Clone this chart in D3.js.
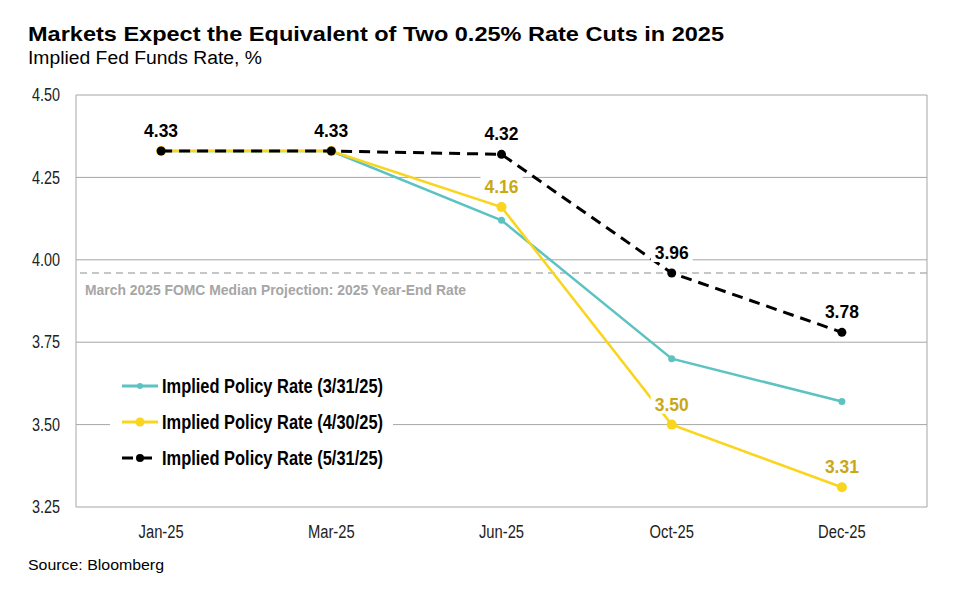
<!DOCTYPE html>
<html>
<head>
<meta charset="utf-8">
<script src="https://cdn.jsdelivr.net/npm/d3@7"></script>
<style>
  body { margin: 0; background: #fff; }
  text { font-family: "Liberation Sans", Arial, Helvetica, sans-serif; }
</style>
</head>
<body>
<div id="chart"></div>
<script>
// data
var months = ["Jan-25", "Mar-25", "Jun-25", "Oct-25", "Dec-25"];
var rateMar = [4.33, 4.33, 4.12, 3.70, 3.57];
var rateApr = [4.33, 4.33, 4.16, 3.50, 3.31];
var rateMay = [4.33, 4.33, 4.32, 3.96, 3.78];
var yTicks = [3.25, 3.50, 3.75, 4.00, 4.25, 4.50];
var fomcRate = 3.96;
var fomcLabel = "March 2025 FOMC Median Projection: 2025 Year-End Rate";
var seriesNames = ["Implied Policy Rate (3/31/25)", "Implied Policy Rate (4/30/25)", "Implied Policy Rate (5/31/25)"];

var W = 960, H = 595;
var margin = {top: 95, right: 33, bottom: 88, left: 76},
    width = W - margin.left - margin.right,
    height = H - margin.top - margin.bottom;

// squeeze a text horizontally (no narrow font installed)
function condense(sel, factor) {
  sel.each(function() {
    var w = this.getComputedTextLength();
    d3.select(this).attr("textLength", w * factor).attr("lengthAdjust", "spacingAndGlyphs");
  });
}
function fit(sel, w) {
  sel.attr("textLength", w).attr("lengthAdjust", "spacingAndGlyphs");
}

var svg = d3.select("#chart").append("svg")
    .attr("width", W).attr("height", H);

// title block
svg.append("text")
    .attr("x", 28).attr("y", 41)
    .style("font-size", "21px").style("font-weight", "bold")
    .text("Markets Expect the Equivalent of Two 0.25% Rate Cuts in 2025")
    .call(fit, 696);
svg.append("text")
    .attr("x", 28).attr("y", 64)
    .style("font-size", "18px")
    .text("Implied Fed Funds Rate, %")
    .call(fit, 234);
svg.append("text")
    .attr("x", 28).attr("y", 570)
    .style("font-size", "14.5px")
    .text("Source: Bloomberg")
    .call(fit, 136);

var g = svg.append("g")
    .attr("transform", "translate(" + margin.left + "," + margin.top + ")");

var x = d3.scaleBand().domain(months).range([0, width]);
var y = d3.scaleLinear().domain([3.25, 4.50]).range([height, 0]);
var cx = function(i) { return x(months[i]) + x.bandwidth() / 2; };

// gridlines
g.selectAll(".grid").data(yTicks).enter().append("line")
    .attr("x1", 0).attr("x2", width)
    .attr("y1", function(d) { return y(d); })
    .attr("y2", function(d) { return y(d); })
    .attr("stroke", "#a6a6a6").attr("stroke-width", 1);

// frame: left, right
g.append("line").attr("x1", 0).attr("x2", 0).attr("y1", 0).attr("y2", height)
    .attr("stroke", "#a6a6a6");
g.append("line").attr("x1", width).attr("x2", width).attr("y1", 0).attr("y2", height)
    .attr("stroke", "#a6a6a6");

// y axis labels
var yAxis = g.append("g")
    .call(d3.axisLeft(y).tickValues(yTicks).tickFormat(d3.format(".2f")).tickSize(0).tickPadding(16));
yAxis.select(".domain").remove();
yAxis.selectAll("text")
    .style("font-size", "18px").style("font-family", "Liberation Sans").attr("fill", "#222")
    .call(condense, 0.8);

// x axis labels
var xAxis = g.append("g")
    .attr("transform", "translate(0," + height + ")")
    .call(d3.axisBottom(x).tickSize(0).tickPadding(18));
xAxis.select(".domain").remove();
xAxis.selectAll("text")
    .style("font-size", "18px").style("font-family", "Liberation Sans").attr("fill", "#222")
    .call(condense, 0.82);

// FOMC reference line
g.append("line")
    .attr("x1", 4).attr("x2", width)
    .attr("y1", y(fomcRate)).attr("y2", y(fomcRate))
    .attr("stroke", "#b4b4b4").attr("stroke-width", 1.5)
    .attr("stroke-dasharray", "7,5");
g.append("text")
    .attr("x", 9).attr("y", y(fomcRate) + 22)
    .style("font-size", "15px").style("font-weight", "bold")
    .attr("fill", "#a6a6a6")
    .text(fomcLabel)
    .call(fit, 381);

var series = [
  {name: seriesNames[0], values: rateMar, color: "#5cc2c2", width: 2.5, r: 3.5, dash: null, labels: []},
  {name: seriesNames[1], values: rateApr, color: "#fad51e", width: 2.5, r: 5, dash: null, labels: [2, 3, 4], labelColor: "#c9a818"},
  {name: seriesNames[2], values: rateMay, color: "#000", width: 3, r: 4.5, dash: "11,7", labels: [0, 1, 2, 3, 4], labelColor: "#000"}
];

var line = d3.line()
    .x(function(d, i) { return cx(i); })
    .y(function(d) { return y(d); });

series.forEach(function(s) {
  g.append("path").datum(s.values)
      .attr("fill", "none")
      .attr("stroke", s.color)
      .attr("stroke-width", s.width)
      .attr("stroke-dasharray", s.dash)
      .attr("d", line);
  g.selectAll(null).data(s.values).enter().append("circle")
      .attr("cx", function(d, i) { return cx(i); })
      .attr("cy", function(d) { return y(d); })
      .attr("r", s.r)
      .attr("fill", s.color);
});

// data labels with white boxes
series.forEach(function(s) {
  s.labels.forEach(function(i) {
    var v = s.values[i];
    var lx = cx(i), ly = y(v) - 14;
    g.append("rect")
        .attr("x", lx - 21).attr("y", ly - 17)
        .attr("width", 42).attr("height", 20)
        .attr("fill", "#fff");
    g.append("text")
        .attr("x", lx - 17).attr("y", ly)
        .style("font-size", "18px").style("font-weight", "bold")
        .attr("fill", s.labelColor)
        .text(d3.format(".2f")(v))
        .call(fit, 34);
  });
});

// legend
var legend = g.append("g").attr("transform", "translate(34,280)");
legend.append("rect")
    .attr("x", 0).attr("y", 0)
    .attr("width", 283).attr("height", 110)
    .attr("fill", "#fff");
series.forEach(function(s, k) {
  var ly = 11 + k * 36;
  legend.append("line")
      .attr("x1", 12).attr("x2", 48)
      .attr("y1", ly).attr("y2", ly)
      .attr("stroke", s.color).attr("stroke-width", 3)
      .attr("stroke-dasharray", s.dash ? "11,8" : null);
  legend.append("circle")
      .attr("cx", 30).attr("cy", ly)
      .attr("r", s.r - 0.5).attr("fill", s.color);
  legend.append("text")
      .attr("x", 52).attr("y", ly + 7)
      .style("font-size", "19.5px").style("font-weight", "bold")
      .attr("fill", "#000")
      .text(s.name)
      .call(fit, 221);
});
</script>
</body>
</html>
